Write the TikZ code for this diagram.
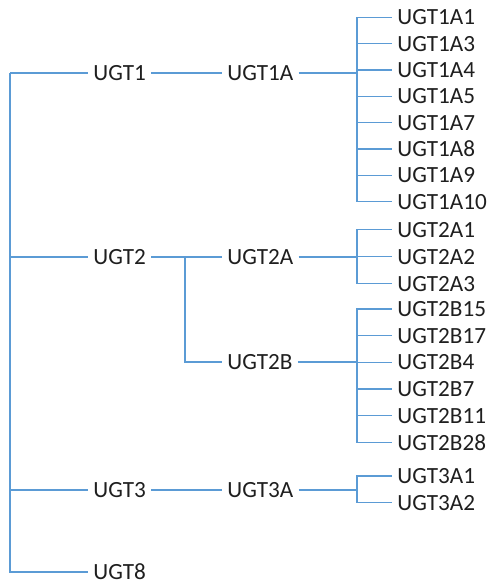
\documentclass[tikz,border=0pt]{standalone}
\usepackage{fontspec}
\setmainfont{Carlito}
\usepackage{xcolor}
\usepackage{tikz}
\usetikzlibrary{positioning,calc}
\definecolor{ugtblue}{RGB}{91,155,213}

\begin{document}
\begin{tikzpicture}[
  x=0.5pt, y=-0.5pt,
  font=\fontsize{11.6}{13}\selectfont,
  gene/.style={anchor=west, inner xsep=2.5pt, inner ysep=0.5pt, text=black!88},
  link/.style={line width=0.75pt, draw=ugtblue},
]
\useasboundingbox (0,0) rectangle (492,587);
% families
\node[gene] (UGT1) at (88,73)  {UGT1};
\node[gene] (UGT2) at (88,257) {UGT2};
\node[gene] (UGT3) at (88,490) {UGT3};
\node[gene] (UGT8) at (88,572) {UGT8};
% subfamilies
\node[gene] (UGT1A) at (222,73)  {UGT1A};
\node[gene] (UGT2A) at (222,257) {UGT2A};
\node[gene] (UGT2B) at (222,362) {UGT2B};
\node[gene] (UGT3A) at (222,490) {UGT3A};
% junctions
\coordinate (trunk) at (10,73);
\coordinate (j2)  at (185,257);
\coordinate (j1a) at (357,73);
\coordinate (j2a) at (357,257);
\coordinate (j2b) at (357,362);
\coordinate (j3a) at (357,490);
% trunk and families
\draw[link] (trunk) -- (UGT1.west);
\foreach \f in {UGT2,UGT3,UGT8} \draw[link] (trunk) |- (\f.west);
\foreach \a/\b in {UGT1/UGT1A, UGT2/UGT2A, UGT3/UGT3A} \draw[link] (\a) -- (\b);
\draw[link] (j2) |- (UGT2B.west);
\foreach \s/\j in {UGT1A/j1a, UGT2A/j2a, UGT2B/j2b, UGT3A/j3a} \draw[link] (\s.east) -- (\j);
% isoforms
\foreach \n [count=\i from 0] in {UGT1A1,UGT1A3,UGT1A4,UGT1A5,UGT1A7,UGT1A8,UGT1A9,UGT1A10} {
  \node[gene] (\n) at (392,{17.3+26.35*\i}) {\n};
  \draw[link] (j1a) |- (\n.west);
}
\foreach \n [count=\i from 0] in {UGT2A1,UGT2A2,UGT2A3} {
  \node[gene] (\n) at (392,{229.7+27*\i}) {\n};
  \draw[link] (j2a) |- (\n.west);
}
\foreach \n [count=\i from 0] in {UGT2B15,UGT2B17,UGT2B4,UGT2B7,UGT2B11,UGT2B28} {
  \node[gene] (\n) at (392,{309+26.65*\i}) {\n};
  \draw[link] (j2b) |- (\n.west);
}
\foreach \n [count=\i from 0] in {UGT3A1,UGT3A2} {
  \node[gene] (\n) at (392,{476+26.7*\i}) {\n};
  \draw[link] (j3a) |- (\n.west);
}
\end{tikzpicture}
\end{document}
